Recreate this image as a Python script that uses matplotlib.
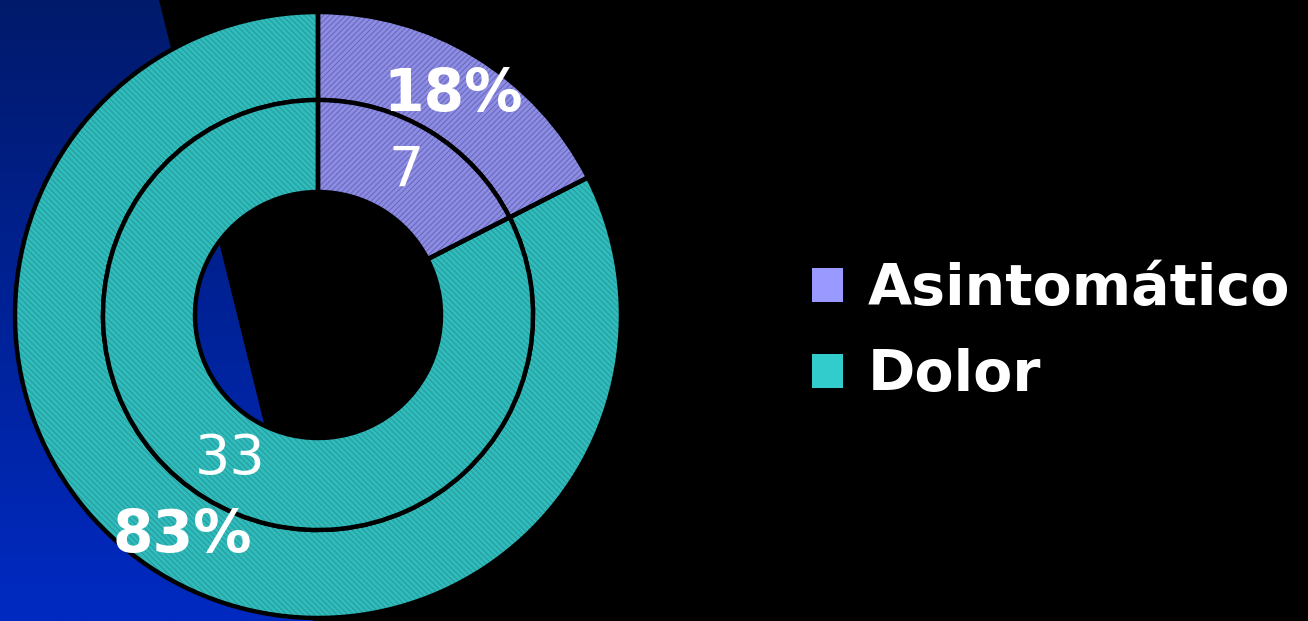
import numpy as np
import matplotlib.pyplot as plt
from matplotlib.patches import Polygon, Patch
from matplotlib.colors import LinearSegmentedColormap

# data
categories = ['Asintomático', 'Dolor']
counts = [7, 33]
pct_labels = ['18%', '83%']
count_labels = ['7', '33']

# styles
legend_colors = ['#9999FF', '#33CCCC']
fill_colors = ['#8d8de8', '#30bcbc']
hatch_colors = ['#6a6ab4', '#279c9c']
hatches = ['//////', '\\\\\\\\\\\\']

W, H = 1308, 621
center = (318, H - 315)
r_outer, r_mid, r_inner = 303, 215, 123

fig = plt.figure(figsize=(W / 100, H / 100), dpi=100, facecolor='black')
ax = fig.add_axes([0, 0, 1, 1])
ax.set_facecolor('black')

# blue slide decoration on the left
blue_shape = Polygon([(0, H), (159, H), (313, 0), (0, 0)], closed=True,
                     facecolor='none', edgecolor='none')
ax.add_patch(blue_shape)
grad = np.linspace(0, 1, 256).reshape(-1, 1)
cmap = LinearSegmentedColormap.from_list('bg', ['#001a6b', '#002ac2'])
img = ax.imshow(grad, cmap=cmap, extent=(0, W, 0, H), origin='upper',
                aspect='auto', zorder=0)
img.set_clip_path(blue_shape)


def ring(radius, width, labels, ldist, weight, size):
    # filled, hatched pass
    w1, _ = ax.pie(counts, radius=radius, center=center, startangle=90,
                   counterclock=False, colors=fill_colors, hatch=hatches,
                   wedgeprops=dict(width=width, linewidth=0))
    for w, hc in zip(w1, hatch_colors):
        w.set_edgecolor(hc)
        w.set_linewidth(0)
    # outline pass with labels
    ax.pie(counts, radius=radius, center=center, startangle=90,
           counterclock=False, labels=labels, labeldistance=ldist,
           wedgeprops=dict(width=width, fill=False, edgecolor='black',
                           linewidth=3.2),
           textprops=dict(color='white', fontsize=size, fontweight=weight,
                          ha='center', va='center'))


plt.rcParams['hatch.linewidth'] = 0.8
ring(r_outer, r_outer - r_mid, pct_labels, (r_outer + r_mid) / 2 / r_outer, 'bold', 42)
ring(r_mid, r_mid - r_inner, count_labels, (r_mid + r_inner) / 2 / r_mid, 'normal', 40)

ax.set_xlim(0, W)
ax.set_ylim(0, H)
ax.set_aspect('auto')
ax.axis('off')

handles = [Patch(facecolor=c, edgecolor='none') for c in legend_colors]
leg = fig.legend(handles, categories, loc='upper left',
                 bbox_to_anchor=(812 / W, 1 - 262 / H), frameon=False,
                 prop=dict(weight='bold', size=41), labelcolor='white',
                 handlelength=0.54, handleheight=0.54, handletextpad=0.44,
                 labelspacing=0.55, borderpad=0, borderaxespad=0)

fig.savefig('out.png', dpi=100, facecolor='black')
